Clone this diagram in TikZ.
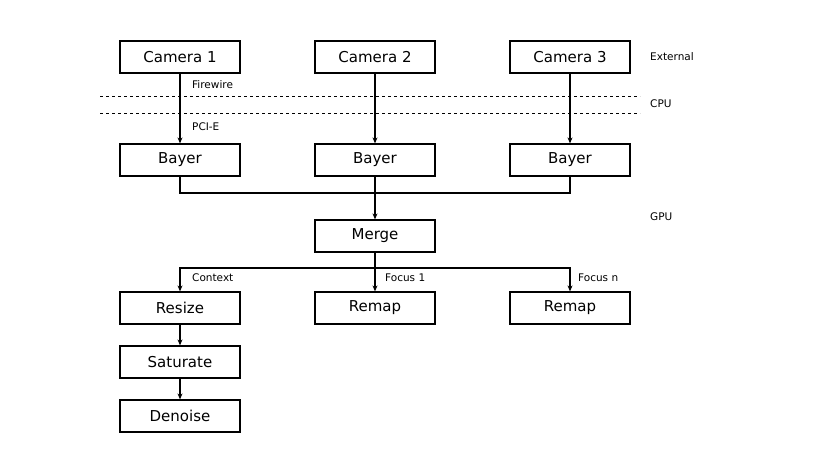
\documentclass[tikz,border=0pt]{standalone}
\usepackage{fontspec}
\setmainfont{DejaVu Sans}
\usetikzlibrary{arrows.meta}
\begin{document}
\begin{tikzpicture}[x=1pt,y=-1pt,
  box/.style={draw,line width=1.2pt,minimum width=120pt,minimum height=32pt,inner sep=0pt,font=\fontsize{15}{16}\selectfont},
  lab/.style={anchor=west,inner sep=0pt,font=\fontsize{10.5}{12}\selectfont},
  arr/.style={-{Stealth[length=6pt,width=5pt]},line width=1.2pt},
  ln/.style={line width=1.2pt}]
\useasboundingbox (0,0) rectangle (820,473);
\node[box] (c1) at (180,57) {Camera 1};
\node[box] (c2) at (375,57) {Camera 2};
\node[box] (c3) at (570,57) {Camera 3};
\node[box] (b1) at (180,160) {Bayer};
\node[box] (b2) at (375,160) {Bayer};
\node[box] (b3) at (570,160) {Bayer};
\node[box] (m) at (375,236) {Merge};
\node[box] (rs) at (180,308) {Resize};
\node[box] (r1) at (375,308) {Remap};
\node[box] (r2) at (570,308) {Remap};
\node[box] (sa) at (180,362) {Saturate};
\node[box] (dn) at (180,416) {Denoise};
\draw[dashed,dash pattern=on 3pt off 3pt,line width=0.8pt] (100,96) -- (640,96);
\draw[dashed,dash pattern=on 3pt off 3pt,line width=0.8pt] (100,113) -- (640,113);
\node[lab] (ext) at (650,57) {External};
\node[lab] (cpu) at (650,104) {CPU};
\node[lab] (gpu) at (650,217) {GPU};
\node[lab] (fw) at (192,85) {Firewire};
\node[lab] (pc) at (192,127) {PCI-E};
\draw[arr] (c1) -- (b1);
\draw[arr] (c2) -- (b2);
\draw[arr] (c3) -- (b3);
\coordinate (j) at (375,193);
\draw[ln] (b1.south) |- (j) -| (b3.south);
\draw[ln] (b2.south) -- (j);
\draw[arr] (j) -- (m.north);
\coordinate (k) at (375,268);
\draw[ln] (m.south) -- (k);
\draw[arr] (k) -| (rs.north);
\draw[arr] (k) -| (r2.north);
\draw[arr] (k) -- (r1.north);
\node[lab] (cx) at (192,278) {Context};
\node[lab] (f1) at (385,278) {Focus 1};
\node[lab] (fn) at (578,278) {Focus n};
\draw[arr] (rs) -- (sa);
\draw[arr] (sa) -- (dn);
\end{tikzpicture}
\end{document}
